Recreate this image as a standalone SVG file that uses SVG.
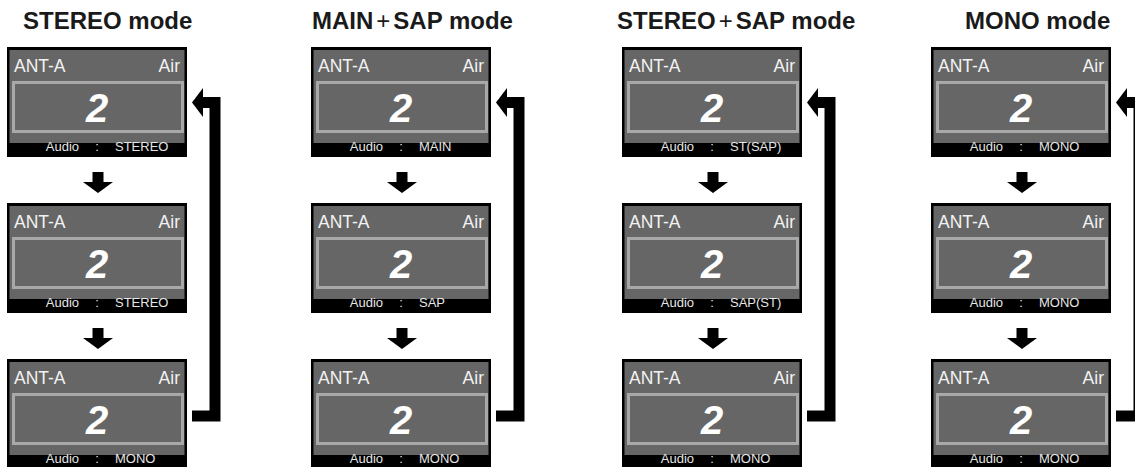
<svg xmlns="http://www.w3.org/2000/svg" xmlns:xlink="http://www.w3.org/1999/xlink" width="1135" height="467" viewBox="0 0 1135 467">
<style>
.title{font-family:"Liberation Sans",Arial,sans-serif;font-weight:bold;font-size:24px;fill:#1a1a1a}
.plus{font-family:"Liberation Sans",Arial,sans-serif;font-weight:normal}
.frame{fill:#000}
.lcd{fill:#666}
.inner{fill:none;stroke:#a8a8a8;stroke-width:3}
.top{font-family:"Liberation Sans",Arial,sans-serif;font-size:17.5px;fill:#f2f2f2}
.ch{font-family:"Liberation Sans",Arial,sans-serif;font-size:40px;font-weight:bold;font-style:italic;fill:#fff;text-anchor:middle}
.aud{font-family:"Liberation Sans",Arial,sans-serif;font-size:13px;fill:#e6e6e6}
.loop{fill:none;stroke:#000;stroke-width:11;stroke-linejoin:miter}
.head{fill:#000}
</style>
<defs>
<polygon id="down" points="92.5,172 103.5,172 103.5,182 113,182 98,193 83,182 92.5,182" fill="#000"/>
<g id="loopArrow">
<path class="loop" d="M192 416 H215 V102.5 H201"/>
<polygon class="head" points="192,102.5 203,88 203,117"/>
</g>
</defs>
<rect width="1135" height="467" fill="#fff"/>
<g id="titles">
<text class="title" x="23" y="29">STEREO mode</text>
<text class="title" x="312" y="29">MAIN<tspan class="plus" dx="3">+</tspan><tspan dx="3">SAP mode</tspan></text>
<text class="title" x="617" y="29">STEREO<tspan class="plus" dx="3">+</tspan><tspan dx="3">SAP mode</tspan></text>
<text class="title" x="965" y="29">MONO mode</text>
</g>
<g id="connectors">
<use xlink:href="#down" transform="translate(0,0)"/>
<use xlink:href="#down" transform="translate(0,156)"/>
<use xlink:href="#down" transform="translate(304,0)"/>
<use xlink:href="#down" transform="translate(304,156)"/>
<use xlink:href="#down" transform="translate(615,0)"/>
<use xlink:href="#down" transform="translate(615,156)"/>
<use xlink:href="#down" transform="translate(924,0)"/>
<use xlink:href="#down" transform="translate(924,156)"/>
<use xlink:href="#loopArrow" transform="translate(0,0)"/>
<use xlink:href="#loopArrow" transform="translate(304,0)"/>
<use xlink:href="#loopArrow" transform="translate(615,0)"/>
<use xlink:href="#loopArrow" transform="translate(924,0)"/>
</g>
<g id="stereo-1" transform="translate(0,0)">
<rect class="frame" x="7" y="47" width="180" height="110"/><rect class="lcd" x="9.5" y="50" width="175" height="93"/><rect class="inner" x="13.5" y="82.5" width="169" height="49"/>
<text class="top" x="14" y="72">ANT-A</text><text class="top" x="180" y="72" text-anchor="end">Air</text><text class="ch" x="97" y="122">2</text>
<text class="aud" x="79" y="151" text-anchor="end">Audio</text><text class="aud" x="97" y="151" text-anchor="middle">:</text><text class="aud" x="115" y="151">STEREO</text>
</g>
<g id="stereo-2" transform="translate(0,156)">
<rect class="frame" x="7" y="47" width="180" height="110"/><rect class="lcd" x="9.5" y="50" width="175" height="93"/><rect class="inner" x="13.5" y="82.5" width="169" height="49"/>
<text class="top" x="14" y="72">ANT-A</text><text class="top" x="180" y="72" text-anchor="end">Air</text><text class="ch" x="97" y="122">2</text>
<text class="aud" x="79" y="151" text-anchor="end">Audio</text><text class="aud" x="97" y="151" text-anchor="middle">:</text><text class="aud" x="115" y="151">STEREO</text>
</g>
<g id="stereo-3" transform="translate(0,312)">
<rect class="frame" x="7" y="47" width="180" height="110"/><rect class="lcd" x="9.5" y="50" width="175" height="93"/><rect class="inner" x="13.5" y="82.5" width="169" height="49"/>
<text class="top" x="14" y="72">ANT-A</text><text class="top" x="180" y="72" text-anchor="end">Air</text><text class="ch" x="97" y="122">2</text>
<text class="aud" x="79" y="151" text-anchor="end">Audio</text><text class="aud" x="97" y="151" text-anchor="middle">:</text><text class="aud" x="115" y="151">MONO</text>
</g>
<g id="mainsap-1" transform="translate(304,0)">
<rect class="frame" x="7" y="47" width="180" height="110"/><rect class="lcd" x="9.5" y="50" width="175" height="93"/><rect class="inner" x="13.5" y="82.5" width="169" height="49"/>
<text class="top" x="14" y="72">ANT-A</text><text class="top" x="180" y="72" text-anchor="end">Air</text><text class="ch" x="97" y="122">2</text>
<text class="aud" x="79" y="151" text-anchor="end">Audio</text><text class="aud" x="97" y="151" text-anchor="middle">:</text><text class="aud" x="115" y="151">MAIN</text>
</g>
<g id="mainsap-2" transform="translate(304,156)">
<rect class="frame" x="7" y="47" width="180" height="110"/><rect class="lcd" x="9.5" y="50" width="175" height="93"/><rect class="inner" x="13.5" y="82.5" width="169" height="49"/>
<text class="top" x="14" y="72">ANT-A</text><text class="top" x="180" y="72" text-anchor="end">Air</text><text class="ch" x="97" y="122">2</text>
<text class="aud" x="79" y="151" text-anchor="end">Audio</text><text class="aud" x="97" y="151" text-anchor="middle">:</text><text class="aud" x="115" y="151">SAP</text>
</g>
<g id="mainsap-3" transform="translate(304,312)">
<rect class="frame" x="7" y="47" width="180" height="110"/><rect class="lcd" x="9.5" y="50" width="175" height="93"/><rect class="inner" x="13.5" y="82.5" width="169" height="49"/>
<text class="top" x="14" y="72">ANT-A</text><text class="top" x="180" y="72" text-anchor="end">Air</text><text class="ch" x="97" y="122">2</text>
<text class="aud" x="79" y="151" text-anchor="end">Audio</text><text class="aud" x="97" y="151" text-anchor="middle">:</text><text class="aud" x="115" y="151">MONO</text>
</g>
<g id="stereosap-1" transform="translate(615,0)">
<rect class="frame" x="7" y="47" width="180" height="110"/><rect class="lcd" x="9.5" y="50" width="175" height="93"/><rect class="inner" x="13.5" y="82.5" width="169" height="49"/>
<text class="top" x="14" y="72">ANT-A</text><text class="top" x="180" y="72" text-anchor="end">Air</text><text class="ch" x="97" y="122">2</text>
<text class="aud" x="79" y="151" text-anchor="end">Audio</text><text class="aud" x="97" y="151" text-anchor="middle">:</text><text class="aud" x="115" y="151">ST(SAP)</text>
</g>
<g id="stereosap-2" transform="translate(615,156)">
<rect class="frame" x="7" y="47" width="180" height="110"/><rect class="lcd" x="9.5" y="50" width="175" height="93"/><rect class="inner" x="13.5" y="82.5" width="169" height="49"/>
<text class="top" x="14" y="72">ANT-A</text><text class="top" x="180" y="72" text-anchor="end">Air</text><text class="ch" x="97" y="122">2</text>
<text class="aud" x="79" y="151" text-anchor="end">Audio</text><text class="aud" x="97" y="151" text-anchor="middle">:</text><text class="aud" x="115" y="151">SAP(ST)</text>
</g>
<g id="stereosap-3" transform="translate(615,312)">
<rect class="frame" x="7" y="47" width="180" height="110"/><rect class="lcd" x="9.5" y="50" width="175" height="93"/><rect class="inner" x="13.5" y="82.5" width="169" height="49"/>
<text class="top" x="14" y="72">ANT-A</text><text class="top" x="180" y="72" text-anchor="end">Air</text><text class="ch" x="97" y="122">2</text>
<text class="aud" x="79" y="151" text-anchor="end">Audio</text><text class="aud" x="97" y="151" text-anchor="middle">:</text><text class="aud" x="115" y="151">MONO</text>
</g>
<g id="mono-1" transform="translate(924,0)">
<rect class="frame" x="7" y="47" width="180" height="110"/><rect class="lcd" x="9.5" y="50" width="175" height="93"/><rect class="inner" x="13.5" y="82.5" width="169" height="49"/>
<text class="top" x="14" y="72">ANT-A</text><text class="top" x="180" y="72" text-anchor="end">Air</text><text class="ch" x="97" y="122">2</text>
<text class="aud" x="79" y="151" text-anchor="end">Audio</text><text class="aud" x="97" y="151" text-anchor="middle">:</text><text class="aud" x="115" y="151">MONO</text>
</g>
<g id="mono-2" transform="translate(924,156)">
<rect class="frame" x="7" y="47" width="180" height="110"/><rect class="lcd" x="9.5" y="50" width="175" height="93"/><rect class="inner" x="13.5" y="82.5" width="169" height="49"/>
<text class="top" x="14" y="72">ANT-A</text><text class="top" x="180" y="72" text-anchor="end">Air</text><text class="ch" x="97" y="122">2</text>
<text class="aud" x="79" y="151" text-anchor="end">Audio</text><text class="aud" x="97" y="151" text-anchor="middle">:</text><text class="aud" x="115" y="151">MONO</text>
</g>
<g id="mono-3" transform="translate(924,312)">
<rect class="frame" x="7" y="47" width="180" height="110"/><rect class="lcd" x="9.5" y="50" width="175" height="93"/><rect class="inner" x="13.5" y="82.5" width="169" height="49"/>
<text class="top" x="14" y="72">ANT-A</text><text class="top" x="180" y="72" text-anchor="end">Air</text><text class="ch" x="97" y="122">2</text>
<text class="aud" x="79" y="151" text-anchor="end">Audio</text><text class="aud" x="97" y="151" text-anchor="middle">:</text><text class="aud" x="115" y="151">MONO</text>
</g>
</svg>
